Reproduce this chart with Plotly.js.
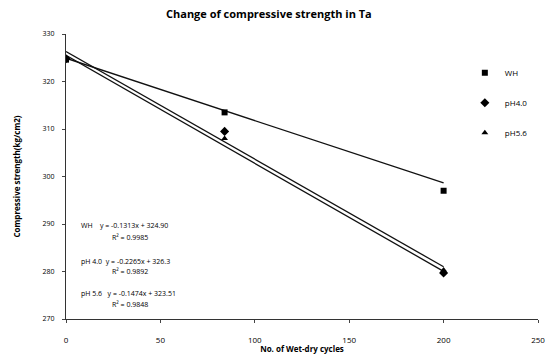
<!DOCTYPE html>
<html><head><meta charset="utf-8">
<script src="https://cdn.plot.ly/plotly-3.0.1.min.js"></script>
<style>html,body{margin:0;padding:0;background:#fff}#c{width:548px;height:354px}</style>
</head><body><div id="c"></div>
<script>
// Data
const cycles = [0, 84, 200];
const seriesNames = ["WH", "pH4.0", "pH5.6"];
const whValues = [324.6, 313.5, 297.0];
const ph40Values = [324.8, 309.5, 279.7];
const ph56Values = [325.0, 308.0, 280.3];
const trendSlopes = [-0.1313, -0.2265, -0.2274];
const trendIntercepts = [324.90, 326.3, 325.51];
const trendLabels = ["WH    y = -0.1313x + 324.90", "pH 4.0  y = -0.2265x + 326.3", "pH 5.6   y = -0.1474x + 323.51"];
const r2Labels = ["R\u00b2 = 0.9985", "R\u00b2 = 0.9892", "R\u00b2 = 0.9848"];
const xTicks = [0, 50, 100, 150, 200, 250];
const yTicks = [270, 280, 290, 300, 310, 320, 330];

const FONT = "Open Sans, Liberation Sans, sans-serif";
const symbols = ["square", "diamond", "triangle-up"];
const values = [whValues, ph40Values, ph56Values];
const traces = [];
for (let i = 0; i < 3; i++) {
  const xs = [cycles[0], cycles[cycles.length - 1]];
  traces.push({
    x: xs, y: xs.map(v => trendSlopes[i] * v + trendIntercepts[i]),
    mode: "lines", line: {color: "#111", width: 1.3}, showlegend: false, hoverinfo: "skip"
  });
}
for (let i = 0; i < 3; i++) {
  traces.push({
    x: cycles, y: values[i], name: seriesNames[i], mode: "markers", legendgroup: "g" + i,
    marker: {symbol: symbols[i], size: i === 1 ? 7 : 6, color: "#000"}
  });
}
const annotations = [
  {text: "<b>Change of compressive strength in Ta</b>", xref: "paper", yref: "paper", x: 0.43, y: 1, xanchor: "center", yanchor: "bottom", yshift: 11, showarrow: false, font: {family: FONT, size: 11, color: "#000"}}
];
const annY = [225, 261, 293];
const r2Y = [237, 271, 304];
for (let i = 0; i < 3; i++) {
  annotations.push({text: trendLabels[i], xref: "paper", yref: "paper", x: (79 - 66) / 472, y: (319 - annY[i]) / 285, xanchor: "left", yanchor: "middle", showarrow: false, font: {family: FONT, size: 7, color: "#000"}});
  annotations.push({text: r2Labels[i], xref: "paper", yref: "paper", x: (110 - 66) / 472, y: (319 - r2Y[i]) / 285, xanchor: "left", yanchor: "middle", showarrow: false, font: {family: FONT, size: 7, color: "#000"}});
}
const layout = {
  width: 548, height: 354,
  margin: {l: 66, r: 10, t: 34, b: 35, autoexpand: false},
  paper_bgcolor: "#fff", plot_bgcolor: "#fff",
  font: {family: FONT, size: 7, color: "#000"},
  showlegend: true,
  legend: {x: 0.845, y: 0.915, xanchor: "left", yanchor: "top", bgcolor: "rgba(0,0,0,0)", font: {family: FONT, size: 8, color: "#000"}, tracegroupgap: 11, itemwidth: 30},
  xaxis: {range: [0, 250], tickvals: xTicks, ticks: "outside", ticklen: 3, ticklabelstandoff: 10, showgrid: false, zeroline: false, showline: true, linecolor: "#333", linewidth: 1, tickfont: {family: FONT, size: 8, color: "#000"},
    title: {text: "<b>No. of Wet-dry cycles</b>", font: {family: FONT, size: 8, color: "#000"}, standoff: 16}},
  yaxis: {range: [270, 330], tickvals: yTicks, ticks: "outside", ticklen: 3, ticklabelstandoff: 6, showgrid: false, zeroline: false, showline: true, linecolor: "#333", linewidth: 1, tickfont: {family: FONT, size: 7, color: "#000"},
    title: {text: "<b>Compressive strength(kg/cm2)</b>", font: {family: FONT, size: 8, color: "#000"}, standoff: 20}},
  annotations: annotations
};
Plotly.newPlot("c", traces, layout, {displayModeBar: false, staticPlot: true});
</script></body></html>
